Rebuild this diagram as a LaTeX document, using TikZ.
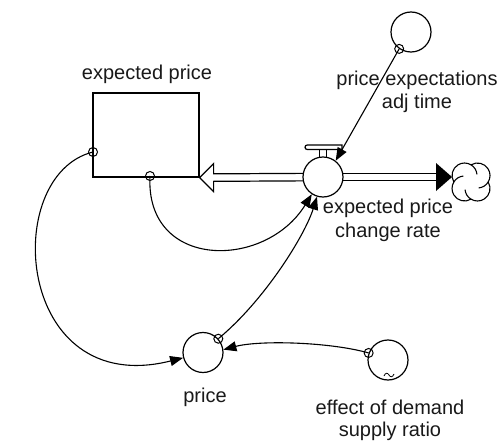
\documentclass[tikz,border=0pt]{standalone}
\usepackage{fontspec}
\setmainfont{Liberation Sans}
\usetikzlibrary{arrows.meta,calc}
\begin{document}
\begin{tikzpicture}[x=1pt,y=-1pt,
  aux/.style={circle,draw,line width=1.2pt,fill=white,minimum size=40pt,inner sep=0pt},
  tap/.style={circle,draw,line width=1pt,minimum size=9pt,inner sep=0pt},
  link/.style={line width=1.1pt,-{Triangle[length=13pt,width=10pt]}},
  pipe/.style={line width=1.2pt},
  lbl/.style={font=\fontsize{20}{24}\selectfont,anchor=base,inner sep=0pt,text=black!90}]
\useasboundingbox (0,0) rectangle (504,444);

% stock and auxiliaries
\node[draw,line width=1.2pt,minimum width=106pt,minimum height=84pt,inner sep=0pt] (stock) at (146,135) {};
\node[aux] (pet) at (411,32) {};
\node[aux] (price) at (203,352.5) {};
\node[aux] (eff) at (388,360) {};
\coordinate (sink) at (452,177);

% flow pipe into the stock (hollow head)
\draw[pipe,fill=white] (323,173.25) -- ([shift={(14pt,3.75pt)}]stock.south east)
  -- ++(0,-10.25) -- (stock.south east) -- ++(14,14) -- ++(0,-10.25) -- (323,180.75);
% flow pipe out to the cloud (solid head)
\draw[pipe] (323,173.25) -- ([shift={(-16pt,3.75pt)}]sink);
\draw[pipe] (323,180.75) -- ([shift={(-16pt,-3.75pt)}]sink);
\fill ([shift={(-16pt,14pt)}]sink) -- (sink) -- ([shift={(-16pt,-14pt)}]sink) -- cycle;

% valve handle and body
\draw[line width=1.1pt] (319.5,149) -- (319.5,158) (326.5,149) -- (326.5,158);
\draw[line width=1.2pt,fill=white] (342,145) -- (307.25,145)
  arc[start angle=270,end angle=90,radius=2.25] -- (342,149.5) -- cycle;
\node[aux] (valve) at (323,177) {};

% cloud
\begin{scope}[line width=1.1pt,shift={(471,182)}]
  \draw[fill=white] (17.2,0)
    arc[start angle=-31.3,end angle=121.3,radius=12.5]
    arc[start angle=58.7,end angle=211.3,radius=12.5]
    arc[start angle=148.7,end angle=301.3,radius=12.5]
    arc[start angle=238.7,end angle=391.3,radius=12.5] -- cycle;
  \draw (0,17.2) arc[start angle=121.3,end angle=175,radius=12.5];
  \draw (-17.2,0) arc[start angle=211.3,end angle=265,radius=12.5];
  \draw (0,-17.2) arc[start angle=301.3,end angle=355,radius=12.5];
  \draw (17.2,0) arc[start angle=31.3,end angle=85,radius=12.5];
\end{scope}

% tilde mark of the lookup variable
\draw[line width=0.8pt] (384,376) .. controls (385.5,372.5) and (387.5,372.5) .. (389,375)
  .. controls (390.5,377.5) and (392.5,377.5) .. (394,374);

% connector taps
\node[tap] (t1) at (93,152) {};
\node[tap] (t2) at (150,176) {};
\node[tap] (t3) at (price.42) {};
\node[tap] (t4) at (eff.160) {};
\node[tap] (t5) at (pet.235) {};

% information links
\draw[link] (t5.center) -- (valve.52);
\draw[link] (t1.center) .. controls (0,175) and (15,400) .. (price.195);
\draw[link] (t2.center) .. controls (145,270) and (265,270) .. (valve.237);
\draw[link] (t3.center) .. controls (265,300) and (305,235) .. (valve.253);
\draw[link] (t4.center) .. controls (330,342) and (260,340) .. (price.8);

% labels
\node[lbl] (l1) at (147,80) {expected price};
\node[lbl] (l2a) at (417,85) {price expectations};
\node[lbl] (l2b) at (417,109) {adj time};
\node[lbl] (l3a) at (388,213) {expected price};
\node[lbl] (l3b) at (388,237) {change rate};
\node[lbl] (l4) at (205,402) {price};
\node[lbl] (l5a) at (390,414) {effect of demand};
\node[lbl] (l5b) at (390,436) {supply ratio};
\end{tikzpicture}
\end{document}
